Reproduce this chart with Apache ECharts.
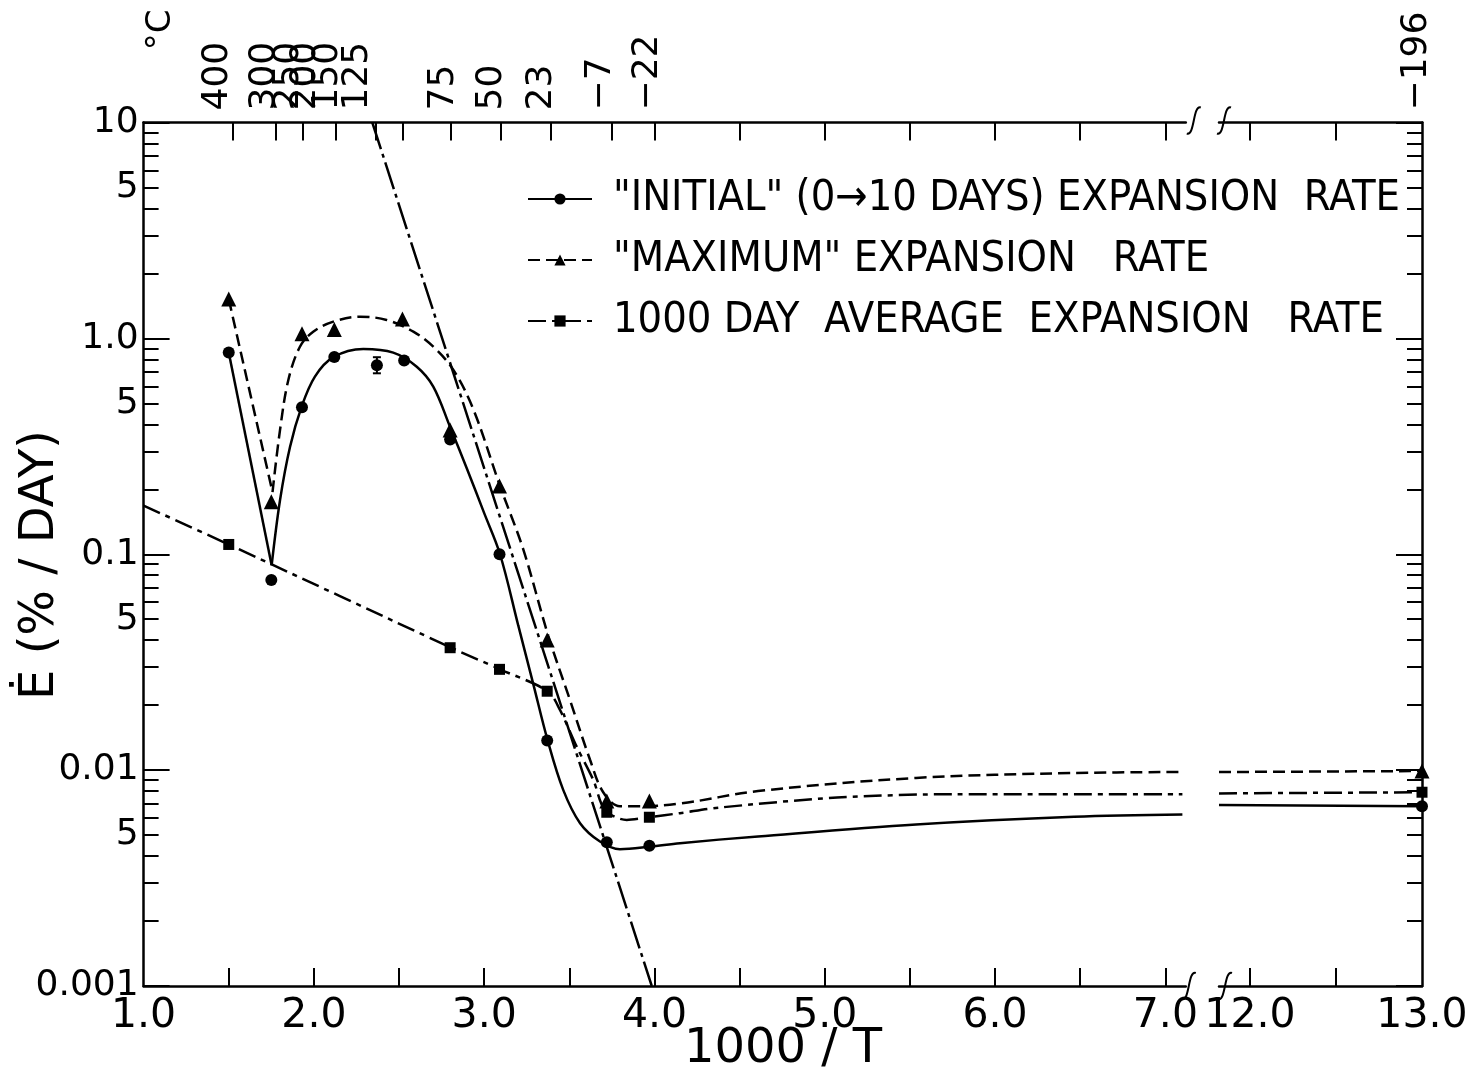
<!DOCTYPE html>
<html><head><meta charset="utf-8">
<script src="https://cdn.jsdelivr.net/npm/echarts@6/dist/echarts.min.js"></script>
<style>html,body{margin:0;padding:0;background:#fff}#c{width:1466px;height:1074px}</style>
</head><body><div id="c"></div>
<script>
// ---------------- data ----------------
const seriesNames = ['"INITIAL" (0→10 DAYS) EXPANSION  RATE', '"MAXIMUM" EXPANSION   RATE', '1000 DAY  AVERAGE  EXPANSION   RATE'];

// measured points, left panel (1000/T from 1.0 to 7.1)
const initialPts = [[1.50,0.86],[1.75,0.076],[1.93,0.48],[2.12,0.82],[2.37,0.75],[2.53,0.79],[2.80,0.34],[3.09,0.100],[3.37,0.0137],[3.72,0.00463],[3.97,0.00446]];
const maximumPts = [[1.50,1.52],[1.75,0.175],[1.93,1.05],[2.12,1.10],[2.52,1.23],[2.80,0.376],[3.09,0.207],[3.37,0.0401],[3.72,0.0072],[3.97,0.0072]];
const averagePts = [[1.50,0.111],[2.80,0.0369],[3.09,0.0293],[3.37,0.0232],[3.72,0.00638],[3.97,0.00605]];
// measured points, right panel (-196 °C)
const initialPtsRight = [[13.0,0.0068]];
const maximumPtsRight = [[13.0,0.0099]];
const averagePtsRight = [[13.0,0.0079]];
// error bar on the 150 °C "initial" point
const errorBar150 = [[2.37,0.689],[2.37,0.818]];

// drawn curves
const initialDrop = [[1.50,0.86],[1.752,0.089]];
const initialCurve = [[1.752,0.089],[1.801,0.178],[1.860,0.315],[1.928,0.483],[2.006,0.665],[2.114,0.818],[2.290,0.893],[2.466,0.859],[2.604,0.739],[2.701,0.598],[2.799,0.39],[2.897,0.251],[3.0,0.155],[3.093,0.100],[3.2,0.0468],[3.288,0.0251],[3.373,0.0137],[3.464,0.0081],[3.563,0.00568],[3.680,0.00467],[3.797,0.0043],[3.974,0.00442],[4.150,0.00459],[4.608,0.00493],[5.536,0.0056],[6.464,0.00608],[7.10,0.00623]];
const initialCurveRight = [[11.82,0.0069],[13.0,0.0068]];
const maximumDrop = [[1.50,1.52],[1.757,0.194]];
const maximumCurve = [[1.757,0.194],[1.801,0.376],[1.850,0.642],[1.918,0.915],[1.996,1.074],[2.114,1.195],[2.271,1.26],[2.427,1.217],[2.584,1.074],[2.701,0.915],[2.819,0.714],[2.936,0.47],[3.093,0.207],[3.230,0.105],[3.376,0.042],[3.504,0.0211],[3.621,0.0112],[3.699,0.0079],[3.797,0.0068],[3.895,0.0068],[4.15,0.0070],[4.608,0.0080],[5.536,0.0092],[6.464,0.0097],[7.10,0.0098]];
const maximumCurveRight = [[11.82,0.0098],[13.0,0.0099]];
const averageCurve = [[1.0,0.168],[1.5,0.111],[2.8,0.0371],[3.093,0.0293],[3.373,0.0232],[3.445,0.019],[3.543,0.01285],[3.641,0.0090],[3.709,0.00654],[3.837,0.00588],[3.966,0.00605],[4.150,0.00632],[4.376,0.0067],[5.072,0.00746],[5.769,0.00774],[7.10,0.00774]];
const averageCurveRight = [[11.82,0.0078],[13.0,0.0079]];
const activationLine = [[2.343,10],[3.984,0.001]];

// axes: ticks and labels
const xTicksLeft = [1.5,2,2.5,3,3.5,4,4.5,5,5.5,6,6.5,7];
const xLabelsLeft = [1,2,3,4,5,6,7];
const xTicksRight = [12,12.5];
const xLabelsRight = [12,13];
const topTicksLeft = [1.524,1.776,1.933,2.128,2.363,2.520,2.803,3.097,3.391,3.747,3.999,4.5,5,5.5,6,6.5,7];
const topLabelX = [1.437,1.713,1.849,1.954,2.080,2.258,2.762,3.045,3.338,3.684,3.957];
const topLabelText = ['400','300','250','200','150','125','75','50','23','−7','−22'];
const topTicksRight = [12,12.5];
const topLabelXRight = [12.97];
const topLabelTextRight = ['−196'];
const yDecadeTicks = [0.001,0.01,0.1,1,10];
const yMinorTicks = [0.002,0.003,0.004,0.005,0.006,0.007,0.008,0.009,0.02,0.03,0.04,0.05,0.06,0.07,0.08,0.09,0.2,0.3,0.4,0.5,0.6,0.7,0.8,0.9,2,3,4,5,6,7,8,9];
const yLabelValues = [0.001,0.005,0.01,0.05,0.1,0.5,1,5,10];
const yLabelTexts = ['0.001','5','0.01','5','0.1','5','1.0','5','10'];

// ---------------- chart ----------------
const BLACK = '#000';
const FONT = 'DejaVu Sans';
const chart = echarts.init(document.getElementById('c'), null, {renderer:'canvas'});

function lookup(vals, texts){
  return function(v){
    for (let i=0;i<vals.length;i++){ if (Math.abs(v-vals[i]) <= 1e-6*Math.max(1,Math.abs(vals[i]))) return texts[i]; }
    return '';
  };
}
const gridTop = 122.5, gridBottomPx = 986;
const grids = [
  {left:143.6, top:gridTop, width:1042.2, height:gridBottomPx-gridTop, outerBoundsMode:'none', containLabel:false},
  {left:1219, top:gridTop, width:203, height:gridBottomPx-gridTop, outerBoundsMode:'none', containLabel:false}
];
const axisLine = {show:true, onZero:false, lineStyle:{color:BLACK, width:2.5}};
function xAxis(gi, pos, min, max, ticks, labelVals, fmt, tickLen, labelOpts){
  return {type:'value', gridIndex:gi, position:pos, min:min, max:max,
    axisLine:axisLine, splitLine:{show:false},
    axisTick:{show:true, inside:true, length:tickLen, customValues:ticks, lineStyle:{color:BLACK, width:2}},
    axisLabel:Object.assign({show:true, customValues:labelVals, formatter:fmt, color:BLACK, fontFamily:FONT}, labelOpts)};
}
function yAxis(gi, pos, ticks, tickLen, withLabels){
  return {type:'log', logBase:10, gridIndex:gi, position:pos, min:0.001, max:10,
    axisLine:{show:withLabels, onZero:false, lineStyle:{color:BLACK, width:2.5}}, splitLine:{show:false},
    axisTick:{show:true, inside:true, length:tickLen, customValues:ticks, lineStyle:{color:BLACK, width:2}},
    axisLabel: withLabels && pos==='left' ? {show:true, customValues:yLabelValues, formatter:lookup(yLabelValues,yLabelTexts), color:BLACK, fontFamily:FONT, fontSize:36, margin:5} : {show:false}};
}
const fmt1 = v => v.toFixed(1);
const bottomLabel = {fontSize:41, margin:10};
const topLabel = {fontSize:36, rotate:-90, margin:12};

function lineS(name, xi, yi, data, type, smooth, symbol){
  return {name:name, type:'line', xAxisIndex:xi, yAxisIndex:yi, data:data, smooth:smooth, symbol:symbol||'none', showSymbol:false,
    lineStyle:{color:BLACK, width:2.5, type:type}, itemStyle:{color:BLACK, opacity:1}, silent:true, z:3};
}
function scat(name, xi, yi, data, symbol, size){
  return {name:name, type:'scatter', xAxisIndex:xi, yAxisIndex:yi, data:data, symbol:symbol, symbolSize:size,
    itemStyle:{color:BLACK, opacity:1}, silent:true, z:4};
}
const DASH = [12,6], DASHDOT = [18,6,5,6], LONGDASH = [28,5,4,5];

const option = {
  backgroundColor:'#fff',
  animation:false,
  grid: grids,
  xAxis:[
    xAxis(0,'bottom',1,7.12,xTicksLeft,xLabelsLeft,fmt1,18,bottomLabel),
    xAxis(0,'top',1,7.12,topTicksLeft,topLabelX,lookup(topLabelX,topLabelText),18,topLabel),
    xAxis(1,'bottom',11.82,13,xTicksRight,xLabelsRight,fmt1,18,bottomLabel),
    xAxis(1,'top',11.82,13,topTicksRight,topLabelXRight,lookup(topLabelXRight,topLabelTextRight),18,topLabel)
  ],
  yAxis:[
    yAxis(0,'left',yMinorTicks,15,true),
    yAxis(0,'left',yDecadeTicks,26,false),
    yAxis(1,'right',yMinorTicks,15,true),
    yAxis(1,'right',yDecadeTicks,26,false)
  ],
  legend:{show:true, orient:'vertical', left:527, top:174, padding:0, itemWidth:64, itemHeight:14, itemGap:11,
    data:seriesNames, selectedMode:false,
    textStyle:{color:BLACK, fontSize:43, lineHeight:50, fontFamily:"'DejaVu Sans Condensed','Liberation Sans Narrow','DejaVu Sans'", padding:[0,0,0,16]}},
  series:[
    lineS(seriesNames[0],0,0,initialCurve,'solid',0.35,'circle'),
    lineS(seriesNames[1],0,0,maximumCurve,DASH,0.35,'triangle'),
    lineS(seriesNames[2],0,0,averageCurve,DASHDOT,0.3,'rect'),
    lineS(seriesNames[0],0,0,initialDrop,'solid',false),
    lineS(seriesNames[1],0,0,maximumDrop,DASH,false),
    lineS('',0,0,activationLine,LONGDASH,false),
    {type:'line', xAxisIndex:0, yAxisIndex:0, data:errorBar150, symbol:'rect', symbolSize:[8,2], showSymbol:true,
      lineStyle:{color:BLACK,width:2}, itemStyle:{color:BLACK}, silent:true, z:4},
    scat(seriesNames[0],0,0,initialPts,'circle',12),
    scat(seriesNames[1],0,0,maximumPts,'triangle',15),
    scat(seriesNames[2],0,0,averagePts,'rect',11),
    lineS(seriesNames[0],2,2,initialCurveRight,'solid',false),
    lineS(seriesNames[1],2,2,maximumCurveRight,DASH,false),
    lineS(seriesNames[2],2,2,averageCurveRight,DASHDOT,false),
    scat(seriesNames[0],2,2,initialPtsRight,'circle',12),
    scat(seriesNames[1],2,2,maximumPtsRight,'triangle',15),
    scat(seriesNames[2],2,2,averagePtsRight,'rect',11)
  ]
};
chart.setOption(option);

// decorations: axis break marks, titles
function sMark(cx, cy){
  return {type:'bezierCurve', silent:true, z:10,
    shape:{x1:cx-7,y1:cy+13,cpx1:cx+1,cpy1:cy+16,cpx2:cx-1,cpy2:cy-16,x2:cx+7,y2:cy-13},
    style:{stroke:BLACK, lineWidth:2, fill:null}};
}
const xBreakL = chart.convertToPixel({xAxisIndex:0}, 7.12);
const xBreakR = chart.convertToPixel({xAxisIndex:2}, 11.82);
const yTop = chart.convertToPixel({yAxisIndex:0}, 10);
const yBot = chart.convertToPixel({yAxisIndex:0}, 0.001);
chart.setOption({graphic:[
  sMark(xBreakL+3, yBot), sMark(xBreakR+6, yBot), sMark(xBreakL+8, yTop-2), sMark(xBreakR+5, yTop-2),
  {type:'text', silent:true, x:161, y:30, rotation:Math.PI/2,
    style:{text:'°C', font:'34px "DejaVu Sans"', fill:BLACK, align:'center', verticalAlign:'middle'}},
  {type:'text', silent:true, x:41, y:565, rotation:Math.PI/2,
    style:{text:'Ė (% / DAY)', font:'48px "DejaVu Sans"', fill:BLACK, align:'center', verticalAlign:'middle'}},
  {type:'text', silent:true, x:783, y:1050,
    style:{text:'1000 / T', font:'48px "DejaVu Sans"', fill:BLACK, align:'center', verticalAlign:'middle'}}
]});
</script></body></html>
